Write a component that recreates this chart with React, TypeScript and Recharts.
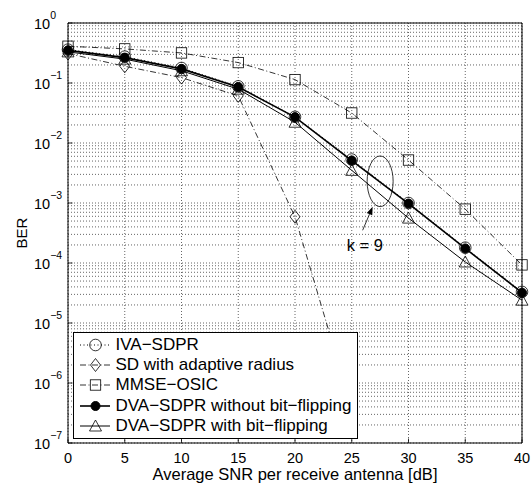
import { LineChart, Line, XAxis, YAxis, CartesianGrid, Legend, ReferenceArea, ReferenceDot } from 'recharts'

// SNR points (dB)
const snr = [0, 5, 10, 15, 20, 25, 30, 35, 40]

// BER per detector
const ivaSdpr = [0.36, 0.275, 0.178, 0.088, 0.0273, 0.0053, 0.001, 0.00018, 0.000033]
const sdAdaptive = [0.31, 0.19, 0.123, 0.061, 0.00059, 0.00000038, null, null, null]
const mmseOsic = [0.41, 0.37, 0.317, 0.219, 0.114, 0.0316, 0.0052, 0.00079, 0.000093]
const dvaNoFlip = [0.35, 0.265, 0.172, 0.086, 0.027, 0.0051, 0.00098, 0.000175, 0.000032]
const dvaFlip = [0.33, 0.25, 0.16, 0.079, 0.0222, 0.0035, 0.00056, 0.000104, 0.000024]

const xTicks = [0, 5, 10, 15, 20, 25, 30, 35, 40]
const decadeExps = [-7, -6, -5, -4, -3, -2, -1, 0]
const minorMults = [2, 3, 4, 5, 6, 7, 8, 9]

const yTicks: number[] = []
decadeExps.forEach(e => {
  yTicks.push(Math.pow(10, e))
  if (e < 0) minorMults.forEach(m => yTicks.push(m * Math.pow(10, e)))
})

const data = snr.map((x, i) => ({
  snr: x,
  iva: ivaSdpr[i],
  sd: sdAdaptive[i],
  mmse: mmseOsic[i],
  dvaNo: dvaNoFlip[i],
  dvaFlip: dvaFlip[i],
}))

const series = [
  { key: 'iva', name: 'IVA\u2212SDPR', marker: 'circle', dash: '1 2.5', width: 1 },
  { key: 'sd', name: 'SD with adaptive radius', marker: 'diamond', dash: '6 2.5 1 2.5', width: 0.8 },
  { key: 'mmse', name: 'MMSE\u2212OSIC', marker: 'square', dash: '6 2.5 1 2.5', width: 0.8 },
  { key: 'dvaNo', name: 'DVA\u2212SDPR without bit\u2212flipping', marker: 'dot', dash: undefined, width: 1.6 },
  { key: 'dvaFlip', name: 'DVA\u2212SDPR with bit\u2212flipping', marker: 'triangle', dash: undefined, width: 1 },
]

const FONT = '"Liberation Sans", Arial, Helvetica, sans-serif'
const W = 532
const H = 484
const MARGIN = { top: 23, right: 10, bottom: 0, left: 0 }
const Y_AXIS_W = 68
const X_AXIS_H = 41
const PLOT_CX = MARGIN.left + Y_AXIS_W + (W - MARGIN.left - MARGIN.right - Y_AXIS_W) / 2
const PLOT_CY = MARGIN.top + (H - MARGIN.top - MARGIN.bottom - X_AXIS_H) / 2

function isDecade(v: number) {
  const e = Math.round(Math.log10(v))
  return Math.abs(v - Math.pow(10, e)) < 1e-9 * Math.pow(10, e)
}

function Marker({ cx, cy, shape }: { cx?: number | null; cy?: number | null; shape: string }) {
  if (cx == null || cy == null || isNaN(cx) || isNaN(cy)) return null
  const s = { fill: 'none', stroke: '#000', strokeWidth: 0.8 }
  switch (shape) {
    case 'circle':
      return <circle cx={cx} cy={cy} r={5.8} {...s} />
    case 'dot':
      return <circle cx={cx} cy={cy} r={4.5} fill="#000" stroke="#000" />
    case 'diamond':
      return <polygon points={`${cx},${cy - 6.5} ${cx + 5},${cy} ${cx},${cy + 6.5} ${cx - 5},${cy}`} {...s} />
    case 'square':
      return <rect x={cx - 5.2} y={cy - 5.2} width={10.4} height={10.4} {...s} />
    case 'triangle':
      return <polygon points={`${cx},${cy - 6} ${cx + 6},${cy + 5} ${cx - 6},${cy + 5}`} {...s} />
  }
  return null
}

const XTick = ({ x, y, payload }: any) => (
  <g>
    <line x1={x} x2={x} y1={y} y2={y - 4.5} stroke="#000" strokeWidth={0.8} />
    <text x={x} y={y + 20} textAnchor="middle" fontSize={14.5} fontFamily={FONT} fill="#000">
      {payload.value}
    </text>
  </g>
)

const TopTick = ({ x, y }: any) => <line x1={x} x2={x} y1={y} y2={y + 4.5} stroke="#000" strokeWidth={0.8} />

const YTick = ({ x, y, payload }: any) => {
  if (!isDecade(payload.value)) return null
  const e = Math.round(Math.log10(payload.value))
  return (
    <g>
      <line x1={x} x2={x + 4.5} y1={y} y2={y} stroke="#000" strokeWidth={0.8} />
      <text x={x - 34} y={y + 5.5} fontFamily={FONT} fill="#000">
        <tspan fontSize={14.5}>10</tspan>
        <tspan fontSize={10.5} dy={-10}>{e === 0 ? '0' : `\u2212${-e}`}</tspan>
      </text>
    </g>
  )
}

const RightTick = ({ x, y, payload }: any) =>
  isDecade(payload.value) ? <line x1={x} x2={x - 4.5} y1={y} y2={y} stroke="#000" strokeWidth={0.8} /> : null

const KAnnotation = ({ cx, cy }: any) => {
  if (cx == null || cy == null) return null
  const tipX = cx - 7.5
  const tipY = cy + 25.5
  const tailX = cx - 17.5
  const tailY = cy + 49
  const ang = Math.atan2(tipY - tailY, tipX - tailX)
  const hl = 8
  const hw = 3
  const bx = tipX - hl * Math.cos(ang)
  const by = tipY - hl * Math.sin(ang)
  const px = -Math.sin(ang) * hw
  const py = Math.cos(ang) * hw
  return (
    <g>
      <ellipse cx={cx} cy={cy} rx={13} ry={25.3} fill="none" stroke="#000" strokeWidth={0.8} />
      <line x1={tailX} y1={tailY} x2={bx} y2={by} stroke="#000" strokeWidth={0.8} />
      <polygon points={`${tipX},${tipY} ${bx + px},${by + py} ${bx - px},${by - py}`} fill="#000" />
      <text x={cx - 33.5} y={cy + 70} fontSize={16.5} fontFamily={FONT} fill="#000">
        k = 9
      </text>
    </g>
  )
}

const renderLegend = () => (
  <div
    style={{
      border: '1px solid #000',
      background: '#fff',
      boxSizing: 'border-box',
      width: 285,
      height: 107,
      paddingTop: 2,
      fontFamily: FONT,
    }}
  >
    {series.map(s => (
      <div key={s.key} style={{ display: 'flex', alignItems: 'center', height: 20.2 }}>
        <svg width={40} height={20} style={{ flex: 'none' }}>
          <line x1={6} x2={36} y1={10} y2={10} stroke="#000" strokeWidth={s.width} strokeDasharray={s.dash} />
          <Marker cx={21.5} cy={10} shape={s.marker} />
        </svg>
        <span style={{ fontSize: 17, marginLeft: 1.5, whiteSpace: 'nowrap', lineHeight: '20px' }}>{s.name}</span>
      </div>
    ))}
  </div>
)

export default function App() {
  return (
    <div style={{ position: 'absolute', left: 0, top: 0, width: W, height: H, background: '#fff', fontFamily: FONT }}>
      <LineChart width={W} height={H} data={data} margin={MARGIN}>
        <CartesianGrid stroke="#333" strokeWidth={0.75} strokeDasharray="1 2" />
        <XAxis
          dataKey="snr"
          type="number"
          domain={[0, 40]}
          ticks={xTicks}
          interval={0}
          height={X_AXIS_H}
          tickSize={0}
          tickMargin={0}
          tickLine={false}
          axisLine={false}
          tick={<XTick />}
          label={{
            content: () => (
              <text x={PLOT_CX} y={H - 4} textAnchor="middle" fontSize={16.5} fontFamily={FONT} fill="#000">
                Average SNR per receive antenna [dB]
              </text>
            ),
          }}
        />
        <XAxis
          xAxisId="top"
          orientation="top"
          type="number"
          domain={[0, 40]}
          ticks={xTicks}
          interval={0}
          height={0}
          tickSize={0}
          tickMargin={0}
          tickLine={false}
          axisLine={false}
          tick={<TopTick />}
        />
        <YAxis
          type="number"
          scale="log"
          domain={[1e-7, 1]}
          allowDataOverflow
          ticks={yTicks}
          interval={0}
          width={Y_AXIS_W}
          tickSize={0}
          tickMargin={0}
          tickLine={false}
          axisLine={false}
          tick={<YTick />}
          label={{
            content: () => (
              <text
                x={26.5}
                y={PLOT_CY}
                textAnchor="middle"
                fontSize={15}
                fontFamily={FONT}
                fill="#000"
                transform={`rotate(-90, 26.5, ${PLOT_CY})`}
              >
                BER
              </text>
            ),
          }}
        />
        <YAxis
          yAxisId="right"
          orientation="right"
          type="number"
          scale="log"
          domain={[1e-7, 1]}
          allowDataOverflow
          ticks={yTicks}
          interval={0}
          width={0}
          tickSize={0}
          tickMargin={0}
          tickLine={false}
          axisLine={false}
          tick={<RightTick />}
        />
        {series.map(s => (
          <Line
            key={s.key}
            dataKey={s.key}
            name={s.name}
            type="linear"
            stroke="#000"
            strokeWidth={s.width}
            strokeDasharray={s.dash}
            connectNulls={false}
            isAnimationActive={false}
            dot={(p: any) => <Marker key={`${s.key}-${p.index}`} cx={p.cx} cy={p.cy} shape={s.marker} />}
            activeDot={false}
          />
        ))}
        <ReferenceDot x={27.5} y={0.0023} r={0} shape={(p: any) => <KAnnotation cx={p.cx} cy={p.cy} />} />
        <ReferenceArea x1={0} x2={40} y1={1e-7} y2={1} fill="none" stroke="#000" strokeWidth={1} />
        <Legend
          layout="vertical"
          align="center"
          verticalAlign="middle"
          content={renderLegend}
          wrapperStyle={{ left: 73, top: 332, width: 285, height: 107 }}
        />
      </LineChart>
    </div>
  )
}
